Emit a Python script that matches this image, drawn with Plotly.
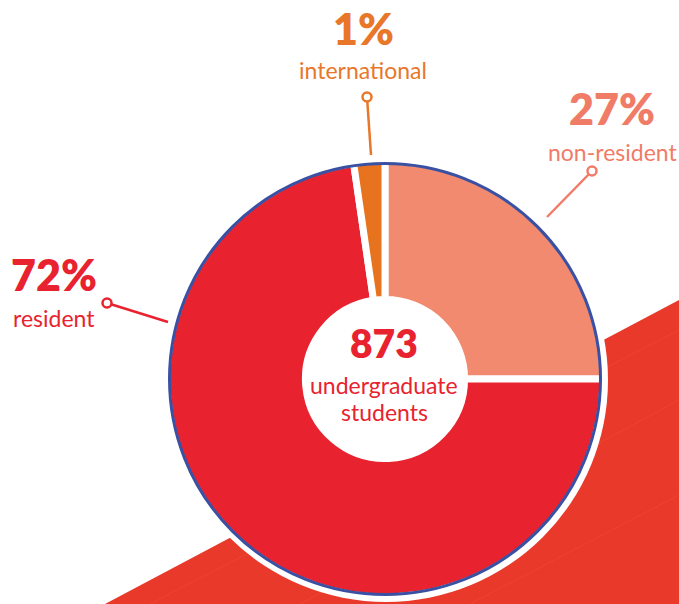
import plotly.graph_objects as go

W, H = 679, 604

# ---- data ----
categories = ["non-resident", "resident", "international"]
pct_labels = ["27%", "72%", "1%"]
drawn_share = [25.0, 72.7, 2.3]          # slice sizes as drawn in the infographic
center_value = "873"
center_caption = ["undergraduate", "students"]
slice_colors = ["#F28A70", "#E8232F", "#E8731F"]
text_colors = ["#F07C68", "#E8232F", "#E8772A"]

def px(x):
    return x / W

def py(y):
    return 1 - y / H

cx, cy, R = 385, 379, 218

fig = go.Figure(
    go.Pie(
        values=drawn_share,
        labels=categories,
        sort=False,
        direction="clockwise",
        rotation=0,
        hole=0.365,
        marker=dict(colors=slice_colors, line=dict(color="white", width=7)),
        textinfo="none",
        hoverinfo="skip",
        showlegend=False,
        domain=dict(x=[px(cx - R), px(cx + R)], y=[py(cy + R), py(cy - R)]),
    )
)

shapes = []
# background diagonal stripe
shapes.append(dict(
    type="path", xref="paper", yref="paper", layer="below",
    path=f"M {px(105)},{py(604)} L {px(679)},{py(300)} L {px(679)},{py(604)} Z",
    fillcolor="#E9392B", line=dict(width=0),
))
# faint texture lines on stripe
for (x0, y0, x1, y1) in [(150, 604, 679, 330), (300, 604, 679, 400), (470, 604, 679, 495)]:
    shapes.append(dict(type="line", xref="paper", yref="paper", layer="below",
                       x0=px(x0), y0=py(y0), x1=px(x1), y1=py(y1),
                       line=dict(color="#EB452D", width=1)))
# white ring behind pie
rw = 222
shapes.append(dict(type="circle", xref="paper", yref="paper", layer="below",
                   x0=px(cx - rw + 1), x1=px(cx + rw + 1), y0=py(cy + rw + 1), y1=py(cy - rw + 1),
                   fillcolor="white", line=dict(width=0)))
# blue outline
rb = 215.5
shapes.append(dict(type="circle", xref="paper", yref="paper", layer="above",
                   x0=px(cx - rb), x1=px(cx + rb), y0=py(cy + rb), y1=py(cy - rb),
                   line=dict(color="#3A50A2", width=3)))

# callouts: (circle x, circle y, line end x, line end y, color)
callouts = [
    (592, 171, 547, 217, text_colors[0]),
    (107, 303, 168, 322, text_colors[1]),
    (367, 97, 371, 155, text_colors[2]),
]
for (x0, y0, x1, y1, col) in callouts:
    shapes.append(dict(type="line", xref="paper", yref="paper", layer="below",
                       x0=px(x0), y0=py(y0), x1=px(x1), y1=py(y1),
                       line=dict(color=col, width=2.5)))
    r = 4.5
    shapes.append(dict(type="circle", xref="paper", yref="paper", layer="below",
                       x0=px(x0 - r), x1=px(x0 + r), y0=py(y0 + r), y1=py(y0 - r),
                       fillcolor="white", line=dict(color=col, width=2.5)))

FONT = "Lato"
annotations = []
# (pct x, pct y, label x, label y)
label_pos = [
    (612, 109, 612, 152),
    (54, 275, 54, 318),
    (363, 28, 363, 70),
]
for i, (ax, ay, lx, ly) in enumerate(label_pos):
    annotations.append(dict(text=pct_labels[i], x=px(ax), y=py(ay), xref="paper", yref="paper",
                            showarrow=False, xanchor="center", yanchor="middle",
                            font=dict(family=FONT, size=43, color=text_colors[i], weight=800)))
    annotations.append(dict(text=categories[i], x=px(lx), y=py(ly), xref="paper", yref="paper",
                            showarrow=False, xanchor="center", yanchor="middle",
                            font=dict(family=FONT, size=23, color=text_colors[i])))

annotations.append(dict(text=center_value, x=px(384), y=py(343), xref="paper", yref="paper",
                        showarrow=False, xanchor="center", yanchor="middle",
                        font=dict(family=FONT, size=39, color="#E8232F", weight=800)))
annotations.append(dict(text=center_caption[0], x=px(384), y=py(385), xref="paper", yref="paper",
                        showarrow=False, xanchor="center", yanchor="middle",
                        font=dict(family=FONT, size=23, color="#E8232F")))
annotations.append(dict(text=center_caption[1], x=px(384), y=py(412), xref="paper", yref="paper",
                        showarrow=False, xanchor="center", yanchor="middle",
                        font=dict(family=FONT, size=23, color="#E8232F")))

fig.update_layout(
    width=W, height=H,
    margin=dict(l=0, r=0, t=0, b=0),
    paper_bgcolor="white", plot_bgcolor="white",
    shapes=shapes, annotations=annotations,
)

fig.write_html("out.html", config={"displayModeBar": False})
